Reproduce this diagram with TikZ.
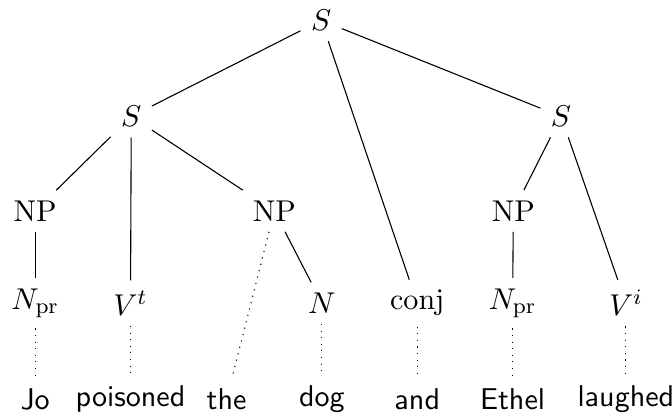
\documentclass[tikz,border=0pt,11pt]{standalone}
\usepackage{amsmath}
\usepackage{tikz}

\begin{document}
\begin{tikzpicture}[
  word/.style={font=\sffamily},
  lex/.style={dotted}]
  \useasboundingbox (0,0) rectangle (8.6,5.3);
  % Clauses
  \node (s)  at (4.11,5.04) {$S$};
  \node (sl) at (1.68,3.81) {$S$};
  \node (sr) at (7.18,3.81) {$S$};
  % Phrases
  \node (npl) at (0.45,2.60) {NP};
  \node (npm) at (3.51,2.60) {NP};
  \node (npr) at (6.57,2.60) {NP};
  % Categories
  \node (nprl) at (0.45,1.42) {$N_{\mathrm{pr}}$};
  \node (vt)   at (1.67,1.42) {$V^t$};
  \node (n)    at (4.12,1.42) {$N$};
  \node (conj) at (5.34,1.42) {conj};
  \node (nprr) at (6.56,1.42) {$N_{\mathrm{pr}}$};
  \node (vi)   at (8.01,1.42) {$V^i$};
  % Words
  \node[word] (jo)   at (0.45,0.19) {Jo};
  \node[word] (pois) at (1.67,0.19) {poisoned};
  \node[word] (the)  at (2.90,0.19) {the};
  \node[word] (dog)  at (4.12,0.19) {dog};
  \node[word] (and)  at (5.34,0.19) {and};
  \node[word] (eth)  at (6.56,0.19) {Ethel};
  \node[word] (laug) at (8.01,0.19) {laughed};
  % Branches
  \draw (s) -- (sl);
  \draw (s) -- (conj);
  \draw (s) -- (sr);
  \draw (sl) -- (npl);
  \draw (sl) -- (vt);
  \draw (sl) -- (npm);
  \draw (sr) -- (npr);
  \draw (sr) -- (vi);
  \draw (npl) -- (nprl);
  \draw (npm) -- (n);
  \draw (npr) -- (nprr);
  % Lexical links
  \draw[lex] (nprl) -- (jo);
  \draw[lex] (vt) -- (pois);
  \draw[lex] (npm) -- (the);
  \draw[lex] (n) -- (dog);
  \draw[lex] (conj) -- (and);
  \draw[lex] (nprr) -- (eth);
  \draw[lex] (vi) -- (laug);
\end{tikzpicture}
\end{document}
